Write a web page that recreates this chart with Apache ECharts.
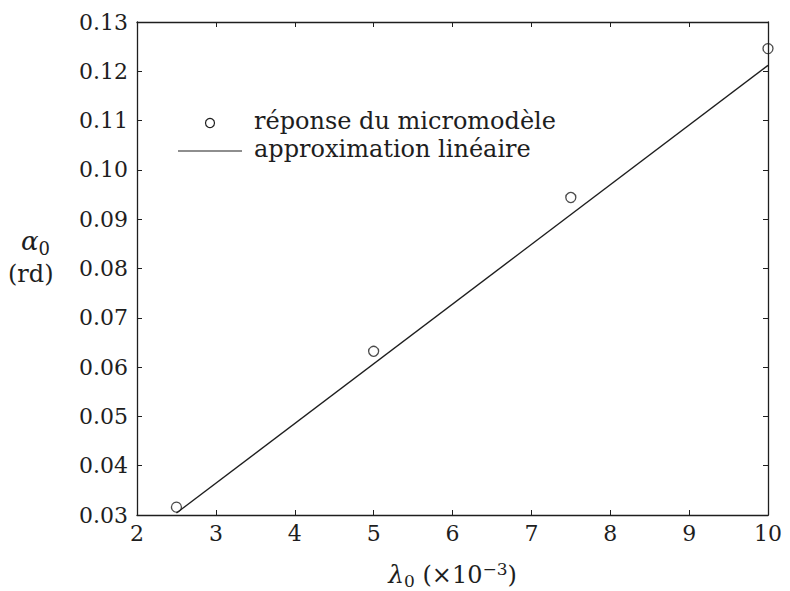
<!DOCTYPE html>
<html><head><meta charset="utf-8">
<script src="https://cdn.jsdelivr.net/npm/echarts@6/dist/echarts.min.js"></script>
<style>html,body{margin:0;padding:0;background:#fff}#c{width:790px;height:591px}</style>
</head><body><div id="c"></div>
<script>
const lambda0 = [2.5, 5, 7.5, 10];
const alpha0 = [0.0316, 0.0632, 0.0944, 0.1246];
const fitX = [2.5, 10];
const fitY = [0.0304, 0.1212];
const legendNames = ['réponse du micromodèle', 'approximation linéaire'];

const FONT = 'DejaVu Serif';
const ink = '#1e1e1e';
const chart = echarts.init(document.getElementById('c'), null, {renderer: 'svg'});
const axisCommon = {
  axisLine: {lineStyle: {color: ink, width: 1.3}},
  axisTick: {inside: true, length: 5, lineStyle: {color: ink, width: 1}},
  splitLine: {show: false}
};
chart.setOption({
  animation: false,
  backgroundColor: '#fff',
  grid: {left: 137, right: 22, top: 22, bottom: 76, containLabel: false, outerBoundsMode: 'none'},
  xAxis: [
    Object.assign({type: 'value', min: 2, max: 10, interval: 1,
      axisLabel: {color: ink, fontFamily: FONT, fontSize: 22, margin: 7},
      name: '{l|λ}{s|0} {n|(×10}{p|−3}{n|)}', nameLocation: 'middle', nameGap: 45,
      nameTextStyle: {color: ink, fontFamily: FONT, fontSize: 24,
        rich: {l: {fontFamily: FONT, fontSize: 25, fontStyle: 'italic', color: ink},
               n: {fontFamily: FONT, fontSize: 24, color: ink},
               s: {fontFamily: FONT, fontSize: 17, verticalAlign: 'bottom', padding: [12,0,0,0], color: ink},
               p: {fontFamily: FONT, fontSize: 17, verticalAlign: 'top', padding: [0,0,12,0], color: ink}}}
    }, axisCommon),
    Object.assign({type: 'value', min: 2, max: 10, interval: 1, position: 'top',
      axisLabel: {show: false}}, axisCommon)
  ],
  yAxis: [
    Object.assign({type: 'value', min: 0.03, max: 0.13, interval: 0.01,
      axisLabel: {color: ink, fontFamily: FONT, fontSize: 22, margin: 9,
        formatter: v => v.toFixed(2)}}, axisCommon),
    Object.assign({type: 'value', min: 0.03, max: 0.13, interval: 0.01, position: 'right',
      axisLabel: {show: false}}, axisCommon)
  ],
  graphic: [
    {type: 'text', left: 21, top: 228, style: {
      text: '{a|α}{s|0}', fill: ink,
      rich: {a: {fontFamily: FONT, fontSize: 26, fontStyle: 'italic', fill: ink},
             s: {fontFamily: FONT, fontSize: 18, fill: ink, padding: [14,0,0,0]}}}},
    {type: 'text', left: 8, top: 262, style: {text: '(rd)', fontFamily: FONT, fontSize: 24, fill: ink}},
    {type: 'circle', shape: {cx: 210, cy: 123, r: 4.5}, style: {fill: 'none', stroke: ink, lineWidth: 1.2}},
    {type: 'line', shape: {x1: 178, y1: 151, x2: 242, y2: 151}, style: {stroke: ink, lineWidth: 1.2}},
    {type: 'text', left: 254, top: 109, style: {text: legendNames[0], fontFamily: FONT, fontSize: 24, fill: ink}},
    {type: 'text', left: 254, top: 137, style: {text: legendNames[1], fontFamily: FONT, fontSize: 24, fill: ink}}
  ],
  series: [
    {type: 'line', name: legendNames[1], data: fitX.map((x, i) => [x, fitY[i]]),
      showSymbol: false, lineStyle: {color: ink, width: 1.3}, z: 2},
    {type: 'scatter', name: legendNames[0], data: lambda0.map((x, i) => [x, alpha0[i]]),
      symbol: 'circle', symbolSize: 10,
      itemStyle: {color: 'rgba(0,0,0,0)', borderColor: ink, borderWidth: 1.3}, z: 3}
  ]
});
</script></body></html>
